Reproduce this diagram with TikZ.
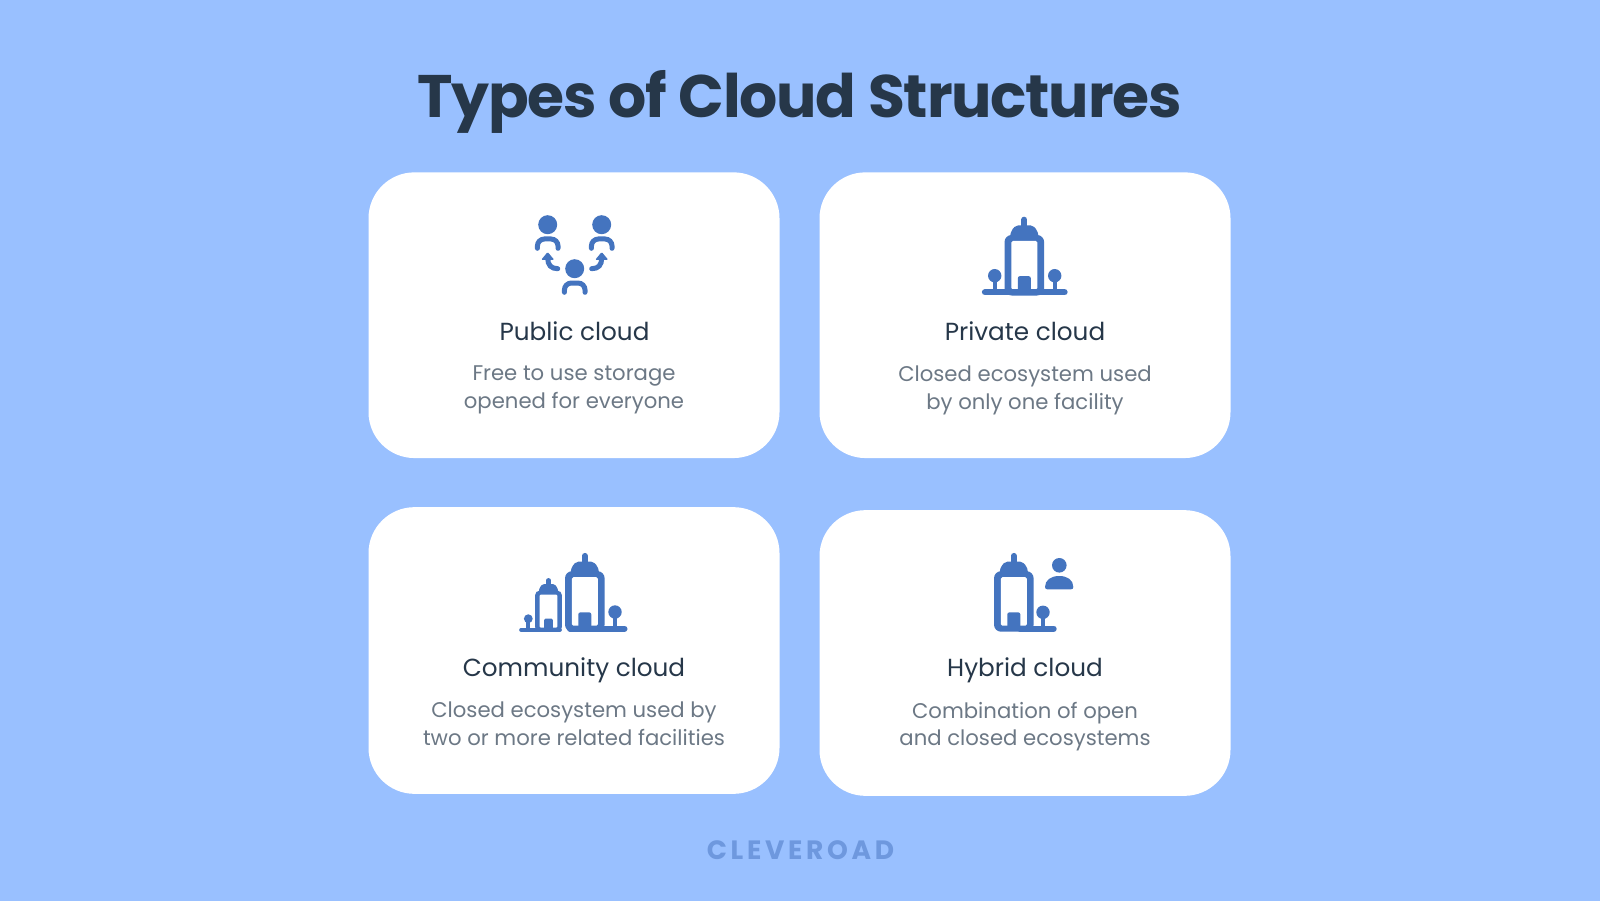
\documentclass[tikz,border=0pt]{standalone}
\usepackage{fontspec}
\setmainfont{Poppins}
\newfontfamily\logofont[LetterSpace=14]{Poppins}
\newfontfamily\titlefont[LetterSpace=-2]{Poppins}
\definecolor{skyback}{RGB}{153,192,255}
\definecolor{iconblue}{RGB}{68,116,191}
\definecolor{inkdark}{RGB}{38,55,73}
\definecolor{inkgray}{RGB}{108,120,133}
\definecolor{logoblue}{RGB}{110,152,222}
\tikzset{
  card/.style={fill=white,rounded corners=46pt,minimum width=411pt,minimum height=285.7pt,inner sep=0pt},
  cardname/.style={text=inkdark,anchor=base,inner sep=0pt,font=\fontsize{24.7}{28}\selectfont},
  carddesc/.style={text=inkgray,align=center,anchor=north,inner sep=0pt,font=\fontsize{21.2}{27.2}\selectfont},
  iconline/.style={draw=iconblue,line width=5pt,line cap=round,rounded corners=7pt}
}
\newcommand{\drawperson}[2]{%
  \fill[iconblue] (#1,#2) circle (9.5);
  \draw[iconline,shift={(#1,#2)}] (-10.3,23.6) -- (-10.3,14.3) -- (10.3,14.3) -- (10.3,23.6);
}
\newcommand{\drawtower}[3]{%
  \begin{scope}[shift={(#1,#2)},scale=#3]
    \fill[iconblue,rounded corners=#3*7pt] (-19.8,0) -- (-19.8,-60.5) -- (19.8,-60.5) -- (19.8,0) -- cycle;
    \fill[iconblue,rounded corners=#3*2pt] (-14.5,-58) -- (-13,-65) -- (-8.5,-70) -- (8.5,-70) -- (13,-65) -- (14.5,-58) -- cycle;
    \draw[iconblue,line width=#3*6pt,line cap=round] (0,-69) -- (0,-75.8);
    \fill[white,rounded corners=#3*1.5pt] (-13,-6) -- (-13,-54.5) -- (13,-54.5) -- (13,-6) -- cycle;
    \fill[iconblue,rounded corners=#3*2pt] (-6.5,-3) -- (-6.5,-19.3) -- (6.5,-19.3) -- (6.5,-3) -- cycle;
  \end{scope}
}
\newcommand{\drawtree}[4]{%
  \draw[iconblue,line width=4.3pt] (#1,#2) -- (#1,#3);
  \fill[iconblue] (#1,#2) circle (#4);
}
\begin{document}
\begin{tikzpicture}[x=1pt,y=-1pt]
  \fill[skyback] (0,0) rectangle (1600,901);
  \node[text=inkdark,inner sep=0pt,anchor=base,font=\titlefont\fontsize{60}{66}\selectfont\bfseries] (title) at (799.5,117.5) {Types of Cloud Structures};
  \node[card] (public) at (574,315.2) {};
  \node[card] (private) at (1025,315.2) {};
  \node[card,minimum height=286.7pt] (community) at (574,650.5) {};
  \node[card] (hybrid) at (1025,653) {};
  % public
  \drawperson{547.7}{224.7}
  \drawperson{601.7}{224.7}
  \drawperson{574.7}{268.7}
  \draw[iconline,rounded corners=0pt] (557.7,268.7) .. controls (551,268.7) and (547.7,265) .. (547.7,258);
  \fill[iconblue,rounded corners=1pt] (547.7,252) -- (554.2,259.8) -- (541.2,259.8) -- cycle;
  \draw[iconline,rounded corners=0pt] (591.7,268.7) .. controls (598.4,268.7) and (601.7,265) .. (601.7,258);
  \fill[iconblue,rounded corners=1pt] (601.7,252) -- (608.2,259.8) -- (595.2,259.8) -- cycle;
  % private
  \drawtree{994.7}{275.7}{292}{6.7}
  \drawtree{1054.7}{275.7}{292}{6.7}
  \drawtower{1024.3}{295.5}{1}
  \draw[iconblue,line width=6.3pt,line cap=round] (985,292.3) -- (1064.5,292.3);
  % community
  \drawtree{615}{612}{628}{6.7}
  \drawtree{528.3}{618.7}{630}{4.4}
  \draw[iconblue,line width=3.7pt,line cap=round] (521,629.9) -- (560,629.9);
  \draw[iconblue,line width=6pt,line cap=round] (570,628.7) -- (624.5,628.7);
  \drawtower{584.8}{631.7}{1}
  \drawtower{548.5}{631.7}{.68}
  % hybrid
  \drawtree{1043}{612.3}{628}{6.7}
  \draw[iconblue,line width=6pt,line cap=round] (1020,628.7) -- (1053.7,628.7);
  \drawtower{1013.8}{631.7}{1}
  \fill[iconblue] (1059.3,565.3) circle (7.3);
  \fill[iconblue] (1045,587) .. controls (1045,580) and (1051,576) .. (1059.2,576) .. controls (1067.5,576) and (1073.3,580) .. (1073.3,587) .. controls (1073.3,588.5) and (1072.5,589.3) .. (1071,589.3) -- (1047.3,589.3) .. controls (1046,589.3) and (1045,588.5) .. (1045,587) -- cycle;
  % labels
  \node[cardname] (publicname) at (574.5,340.5) {Public cloud};
  \node[carddesc] (publicdesc) at (574,366) {Free to use storage\\opened for everyone};
  \node[cardname] (privatename) at (1025,340.5) {Private cloud};
  \node[carddesc] (privatedesc) at (1025,366) {Closed ecosystem used\\by only one facility};
  \node[cardname] (communityname) at (574,676) {Community cloud};
  \node[carddesc] (communitydesc) at (574,702) {Closed ecosystem used by\\two or more related facilities};
  \node[cardname] (hybridname) at (1025,676) {Hybrid cloud};
  \node[carddesc] (hybriddesc) at (1025,702) {Combination of open\\and closed ecosystems};
  \node[text=logoblue,inner sep=0pt,anchor=base,font=\logofont\bfseries\fontsize{26.5}{30}\selectfont] (logo) at (800.5,859) {CLEVEROAD};
\end{tikzpicture}
\end{document}
